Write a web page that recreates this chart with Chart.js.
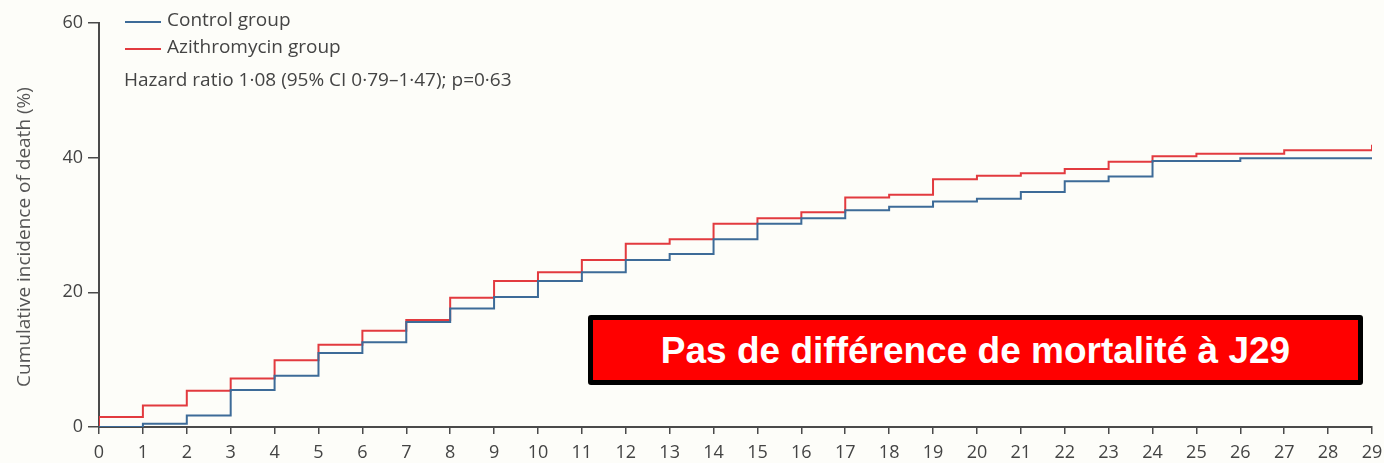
<!DOCTYPE html>
<html>
<head>
<meta charset="utf-8">
<script src="https://cdn.jsdelivr.net/npm/chart.js@4.4.1/dist/chart.umd.min.js"></script>
<style>
  html, body { margin: 0; padding: 0; background: #fdfdf9; }
  #wrap { position: relative; width: 1384px; height: 463px; }
  #c { position: absolute; left: 0; top: 0; }
  #banner {
    position: absolute; left: 588px; top: 315px; width: 765px; height: 60px;
    background: #ff0000; border: 5px solid #000; border-radius: 3px;
    color: #fff; font-family: "Liberation Sans", Arial, sans-serif; font-weight: bold;
    font-size: 37px; display: flex; align-items: center; justify-content: center;
    line-height: 1;
  }
</style>
</head>
<body>
<div id="wrap">
  <canvas id="c" width="1384" height="463"></canvas>
  <div id="banner">Pas de différence de mortalité à J29</div>
</div>
<script>
// Day at which each step starts (leading 0 gives the initial vertical rise)
const days = [0, 0, 1, 2, 3, 4, 5, 6, 7, 8, 9, 10, 11, 12, 13, 14, 15, 16, 17, 18, 19, 20, 21, 22, 23, 24, 25, 26, 27, 28, 29];
const controlGroup = [0, 0, 0.5, 1.7, 5.5, 7.6, 11.0, 12.6, 15.6, 17.6, 19.3, 21.7, 23.0, 24.8, 25.7, 27.9, 30.2, 31.0, 32.2, 32.7, 33.5, 33.9, 34.9, 36.5, 37.2, 39.5, 39.5, 39.9, 39.9, 39.9, 39.9];
const azithroGroup = [0, 1.5, 3.2, 5.4, 7.2, 9.9, 12.2, 14.3, 15.9, 19.2, 21.7, 23.0, 24.8, 27.2, 27.9, 30.2, 31.0, 31.9, 34.1, 34.5, 36.8, 37.3, 37.7, 38.3, 39.4, 40.2, 40.6, 40.6, 41.1, 41.1, 41.9];
const yTicks = [0, 20, 40, 60];
const legendLabels = ["Control group", "Azithromycin group"];
const statsText = "Hazard ratio 1·08 (95% CI 0·79–1·47); p=0·63";
const yTitle = "Cumulative incidence of death (%)";

const BLUE = '#3d6b98';
const RED = '#e23a3f';
const AX = '#4a4a4a';
const FONT = '"Open Sans", "Noto Sans", sans-serif';

const toPts = (vals) => days.map((d, i) => ({ x: d, y: vals[i] }));

const overlay = {
  id: 'overlay',
  afterDraw(chart) {
    const ctx = chart.ctx;
    ctx.save();
    ctx.font = '19px ' + FONT;
    ctx.fillStyle = '#444';
    ctx.textBaseline = 'middle';
    const items = [[BLUE, legendLabels[0], 22], [RED, legendLabels[1], 49]];
    items.forEach(([col, txt, y]) => {
      ctx.strokeStyle = col; ctx.lineWidth = 2;
      ctx.beginPath(); ctx.moveTo(125, y); ctx.lineTo(161, y); ctx.stroke();
      ctx.fillText(txt, 167, y - 1);
    });
    ctx.fillText(statsText, 124, 81);
    // y title
    ctx.translate(25, 237);
    ctx.rotate(-Math.PI / 2);
    ctx.textAlign = 'center';
    ctx.font = '19px ' + FONT;
    ctx.fillStyle = '#555';
    ctx.fillText(yTitle, 0, 0);
    ctx.restore();
  }
};

new Chart(document.getElementById('c'), {
  type: 'line',
  data: {
    datasets: [
      { label: legendLabels[0], data: toPts(controlGroup), borderColor: BLUE, borderWidth: 2, stepped: 'before', pointRadius: 0, fill: false },
      { label: legendLabels[1], data: toPts(azithroGroup), borderColor: RED, borderWidth: 2, stepped: 'before', pointRadius: 0, fill: false }
    ]
  },
  options: {
    responsive: false,
    animation: false,
    events: [],
    layout: { padding: { top: 23, right: 0, left: 0, bottom: 0 } },
    plugins: { legend: { display: false }, tooltip: { enabled: false } },
    scales: {
      x: {
        type: 'linear', min: 0, max: 29,
        ticks: { stepSize: 1, color: '#444', font: { family: FONT, size: 18 }, padding: 8, maxRotation: 0, autoSkip: false },
        grid: { drawOnChartArea: false, drawTicks: true, tickLength: 7, color: AX, lineWidth: 1.5 },
        border: { display: true, color: AX, width: 2 },
        afterFit(s) { s.height = 36; s.paddingRight = 12; }
      },
      y: {
        min: 0, max: 60,
        afterBuildTicks(s) { s.ticks = yTicks.map(v => ({ value: v })); },
        ticks: { color: '#444', font: { family: FONT, size: 18 }, padding: 5 },
        grid: { drawOnChartArea: false, drawTicks: true, tickLength: 11, color: AX, lineWidth: 1.5 },
        border: { display: true, color: AX, width: 2 },
        afterFit(s) { s.width = 99; }
      }
    }
  },
  plugins: [overlay]
});
</script>
</body>
</html>
